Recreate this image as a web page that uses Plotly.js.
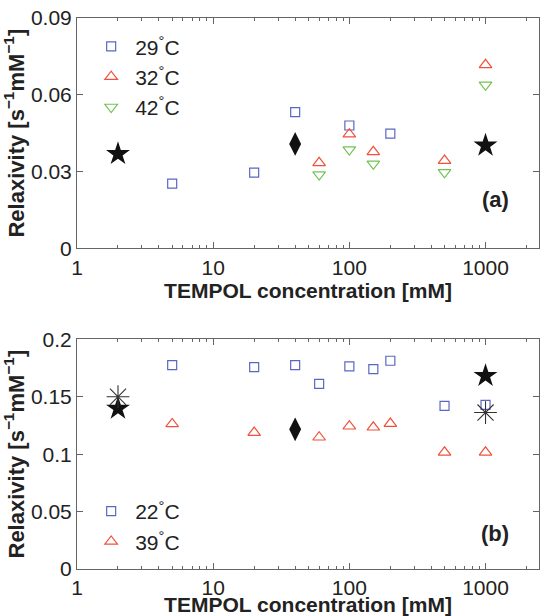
<!DOCTYPE html>
<html>
<head>
<meta charset="utf-8">
<script src="https://cdn.plot.ly/plotly-3.0.1.min.js"></script>
<style>html,body{margin:0;padding:0;background:#fff;}#chart{width:541px;height:616px;}</style>
</head>
<body>
<div id="chart"></div>
<script>
// ---- Panel (a) data ----
const a_x29 = [5, 20, 40, 100, 200];
const a_y29 = [0.0253, 0.0296, 0.0532, 0.0480, 0.0448];
const a_x32 = [60, 100, 150, 500, 1000];
const a_y32 = [0.0334, 0.0446, 0.0377, 0.0343, 0.0717];
const a_x42 = [60, 100, 150, 500, 1000];
const a_y42 = [0.0288, 0.0386, 0.0330, 0.0297, 0.0639];
const a_xStar = [2, 1000];
const a_yStar = [0.0369, 0.0402];
const a_xDiam = [40];
const a_yDiam = [0.0408];

// ---- Panel (b) data ----
const b_x22 = [5, 20, 40, 60, 100, 150, 200, 500, 1000];
const b_y22 = [0.1775, 0.1758, 0.1775, 0.1612, 0.1764, 0.1740, 0.1813, 0.1420, 0.1429];
const b_x39 = [5, 20, 60, 100, 150, 200, 500, 1000];
const b_y39 = [0.1263, 0.1188, 0.1147, 0.1243, 0.1234, 0.1266, 0.1016, 0.1016];
const b_xStar = [2, 1000];
const b_yStar = [0.1397, 0.1682];
const b_xAst = [2, 1000];
const b_yAst = [0.1500, 0.1362];
const b_xDiam = [40];
const b_yDiam = [0.1216];

const xTicks = [1, 10, 100, 1000];
const xTickText = ['1', '10', '100', '1000'];
const xMinor = [2,3,4,5,6,7,8,9,20,30,40,50,60,70,80,90,200,300,400,500,600,700,800,900,2000];
const aYTicks = [0, 0.03, 0.06, 0.09];
const bYTicks = [0, 0.05, 0.1, 0.15, 0.2];
const aNames = ['29<sup>°</sup>C', '32<sup>°</sup>C', '42<sup>°</sup>C'];
const bNames = ['22<sup>°</sup>C', '39<sup>°</sup>C'];

const cBlue = '#5b66c4', cRed = '#f2503c', cGreen = '#74c257';
function mk(sym, size, col) { return {symbol: sym, size: size, color: col, line: {width: 1.2, color: col}}; }
const traces = [
  {x: a_x29, y: a_y29, name: aNames[0], mode: 'markers', xaxis: 'x', yaxis: 'y', legend: 'legend', marker: mk('square-open', 9, cBlue)},
  {x: a_x32, y: a_y32, name: aNames[1], mode: 'markers', xaxis: 'x', yaxis: 'y', legend: 'legend', marker: mk('triangle-up-open', 11, cRed)},
  {x: a_x42, y: a_y42, name: aNames[2], mode: 'markers', xaxis: 'x', yaxis: 'y', legend: 'legend', marker: mk('triangle-down-open', 11, cGreen)},
  {x: a_xStar, y: a_yStar, mode: 'markers', showlegend: false, xaxis: 'x', yaxis: 'y', marker: {symbol: 'star', size: 18, color: '#111'}},
  {x: a_xDiam, y: a_yDiam, mode: 'markers', showlegend: false, xaxis: 'x', yaxis: 'y', marker: {symbol: 'diamond-tall', size: 17, color: '#111'}},

  {x: b_x22, y: b_y22, name: bNames[0], mode: 'markers', xaxis: 'x2', yaxis: 'y2', legend: 'legend2', marker: mk('square-open', 9, cBlue)},
  {x: b_x39, y: b_y39, name: bNames[1], mode: 'markers', xaxis: 'x2', yaxis: 'y2', legend: 'legend2', marker: mk('triangle-up-open', 11, cRed)},
  {x: b_xStar, y: b_yStar, mode: 'markers', showlegend: false, xaxis: 'x2', yaxis: 'y2', marker: {symbol: 'star', size: 18, color: '#111'}},
  {x: b_xAst, y: b_yAst, mode: 'markers', showlegend: false, xaxis: 'x2', yaxis: 'y2',
   marker: {symbol: 'asterisk-open', size: 19, color: '#333', line: {width: 1.1, color: '#333'}}},
  {x: b_xDiam, y: b_yDiam, mode: 'markers', showlegend: false, xaxis: 'x2', yaxis: 'y2', marker: {symbol: 'diamond-tall', size: 17, color: '#111'}}
];

const FONT = '"Liberation Sans", Arial, Helvetica, sans-serif';
function xAxis(anchor) {
  return {
    type: 'log', range: [0, Math.log10(2470)], anchor: anchor, domain: [0, 1],
    tickvals: xTicks, ticktext: xTickText,
    ticks: 'inside', ticklen: 6, tickcolor: '#666', tickwidth: 1,
    showline: true, linecolor: '#666', linewidth: 1, mirror: 'allticks',
    showgrid: false, zeroline: false,
    minor: {tickvals: xMinor, ticks: 'inside', ticklen: 3, tickcolor: '#666', showgrid: false},
    tickfont: {family: FONT, size: 21, color: '#222'},
    title: {text: 'TEMPOL concentration [mM]', font: {family: FONT, size: 21, color: '#222', weight: 'bold'}, standoff: 1},
    automargin: false
  };
}
function yAxis(anchor, domain, range, vals) {
  return {
    domain: domain, anchor: anchor, range: range, tickvals: vals,
    ticks: 'inside', ticklen: 6, tickcolor: '#666', tickwidth: 1,
    showline: true, linecolor: '#666', linewidth: 1, mirror: 'allticks',
    showgrid: false, zeroline: false,
    tickfont: {family: FONT, size: 21, color: '#222'},
    title: {text: 'Relaxivity [s<sup>−1</sup>mM<sup>−1</sup>]', font: {family: FONT, size: 22, color: '#222', weight: 'bold'}, standoff: 0},
    automargin: 'title'
  };
}

const layout = {
  width: 541, height: 616,
  margin: {l: 77, r: 2, t: 18, b: 47},
  paper_bgcolor: '#fff', plot_bgcolor: '#fff',
  font: {family: FONT, color: '#222'},
  xaxis: xAxis('y'),
  yaxis: yAxis('x', [0.582, 1], [0, 0.09], aYTicks),
  xaxis2: xAxis('y2'),
  yaxis2: yAxis('x2', [0, 0.4169], [0, 0.2], bYTicks),
  legend: {x: 0.022, y: 0.985, xanchor: 'left', yanchor: 'top', bgcolor: 'rgba(0,0,0,0)', itemwidth: 38,
           font: {family: FONT, size: 21, color: '#222'}},
  legend2: {x: 0.022, y: 0.1416, xanchor: 'left', yanchor: 'top', bgcolor: 'rgba(0,0,0,0)', itemwidth: 38,
           font: {family: FONT, size: 21, color: '#222'}},
  annotations: [
    {text: '<b>(a)</b>', xref: 'paper', yref: 'paper', x: 0.905, y: 0.6697, xanchor: 'center', yanchor: 'middle', showarrow: false,
     font: {family: FONT, size: 22, color: '#222'}},
    {text: '<b>(b)</b>', xref: 'paper', yref: 'paper', x: 0.905, y: 0.0653, xanchor: 'center', yanchor: 'middle', showarrow: false,
     font: {family: FONT, size: 22, color: '#222'}}
  ],
  showlegend: true
};

Plotly.newPlot('chart', traces, layout, {displayModeBar: false, staticPlot: true});
</script>
</body>
</html>
